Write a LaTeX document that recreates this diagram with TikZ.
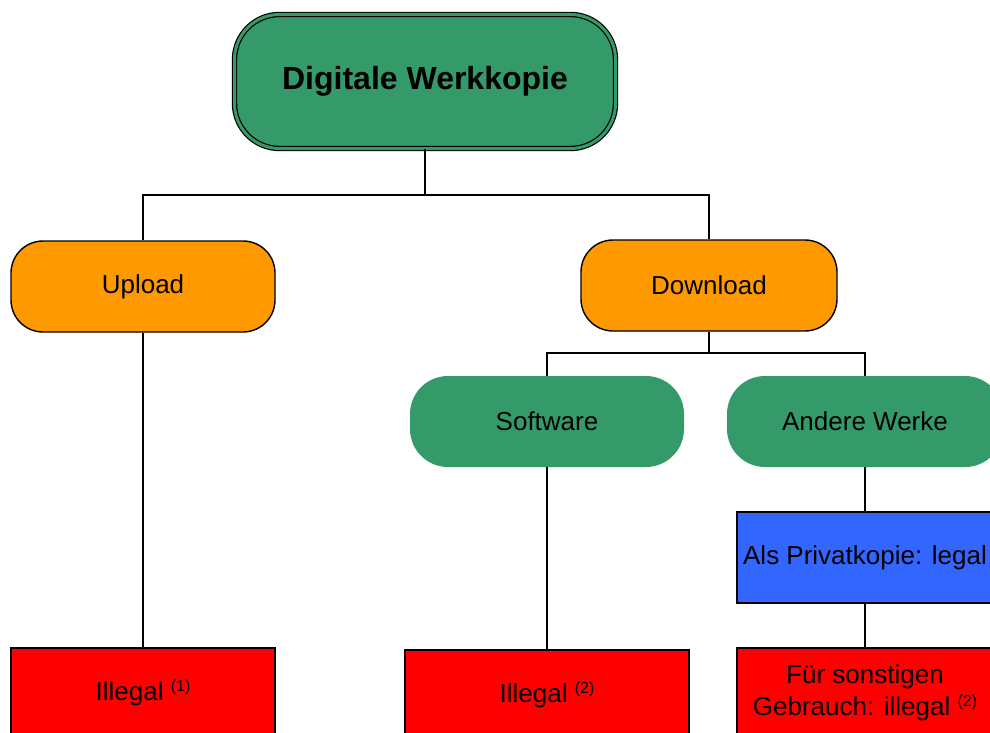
\documentclass[tikz,border=0pt]{standalone}
\usepackage{fontspec}
\setmainfont{Liberation Sans}
\definecolor{cgreen}{RGB}{53,154,106}
\definecolor{corange}{RGB}{255,153,0}
\definecolor{cblue}{RGB}{51,102,255}
\definecolor{cred}{RGB}{255,0,0}
\newcommand{\supref}[1]{\raisebox{9pt}{\fontsize{16}{16}\selectfont(#1)}}
\begin{document}
\begin{tikzpicture}[x=1pt,y=-1pt,
  base/.style={inner sep=0pt,align=center,font=\fontsize{26}{32}\selectfont},
  orangebox/.style={base,draw=black,line width=1.4pt,fill=corange,rounded corners=32pt,minimum width=264pt,minimum height=91pt},
  greenbox/.style={base,fill=cgreen,rounded corners=38pt,minimum width=274pt,minimum height=91pt},
  redbox/.style={base,draw=black,line width=1.4pt,fill=cred,minimum height=90pt},
  bluebox/.style={base,draw=black,line width=1.4pt,fill=cblue,minimum width=256pt,minimum height=91pt},
  topbox/.style={inner sep=0pt,align=center,font=\fontsize{32}{38}\bfseries\selectfont,draw=black,line width=1.2pt,double=cgreen,double distance=3pt,fill=cgreen,rounded corners=45pt,minimum width=381pt,minimum height=134pt},
  conn/.style={draw=black,line width=1.4pt}]
\useasboundingbox (0,0) rectangle (990,733);
\clip (0,0) rectangle (990,733);
\node[topbox] (top) at (425,81.5) {Digitale Werkkopie};
\node[orangebox] (up) at (143,286.5) {Upload};
\node[orangebox,minimum width=256pt] (down) at (709,285.5) {Download};
\node[greenbox] (soft) at (547,421.5) {Software};
\node[greenbox,minimum width=276pt] (andere) at (865,421.5) {Andere Werke};
\node[bluebox] (priv) at (865,557.5) {\raisebox{-2pt}{Als Privatkopie: legal}};
\node[redbox,minimum width=264pt] (ill1) at (143,693) {Illegal \supref{1}};
\node[redbox,minimum width=284pt] (ill2) at (547,695) {Illegal \supref{2}};
\node[redbox,minimum width=256pt] (sonst) at (865,693) {\raisebox{-3pt}{\begin{tabular}{@{}c@{}}Für sonstigen\\Gebrauch: illegal \supref{2}\end{tabular}}};
\coordinate (j1) at (425,195);
\coordinate (j2) at (709,353);
\draw[conn] (top.south) -- (j1) -| (up.north);
\draw[conn] (j1) -| (down.north);
\draw[conn] (down.south) -- (j2) -| (soft.north);
\draw[conn] (j2) -| (andere.north);
\draw[conn] (up.south) -- (ill1.north);
\draw[conn] (soft.south) -- (ill2.north);
\draw[conn] (andere.south) -- (priv.north);
\draw[conn] (priv.south) -- (sonst.north);
\end{tikzpicture}
\end{document}
